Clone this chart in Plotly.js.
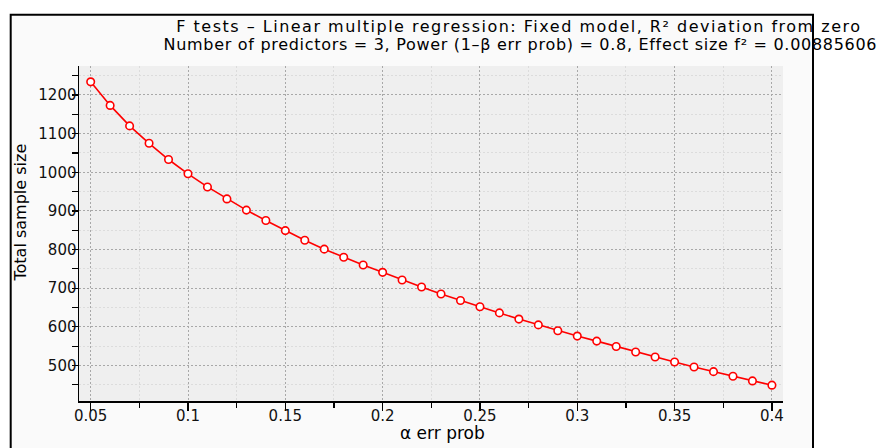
<!DOCTYPE html>
<html>
<head>
<meta charset="utf-8">
<script src="https://cdn.plot.ly/plotly-3.0.1.min.js"></script>
<style>
html,body{margin:0;padding:0;background:#fff;}
#chart{width:879px;height:448px;}
.annotation[data-index="0"] .annotation-text{letter-spacing:1.5px;}
.annotation[data-index="1"] .annotation-text{letter-spacing:0.7px;}
</style>
</head>
<body>
<div id="chart"></div>
<script>
// α err prob values (x) and Total sample size (y)
const alphaErrProb = [0.05,0.06,0.07,0.08,0.09,0.10,0.11,0.12,0.13,0.14,0.15,0.16,0.17,0.18,0.19,0.20,0.21,0.22,0.23,0.24,0.25,0.26,0.27,0.28,0.29,0.30,0.31,0.32,0.33,0.34,0.35,0.36,0.37,0.38,0.39,0.40];
const totalSampleSize = [1234,1173,1120,1075,1033,996,962,931,902,875,849,824,801,780,760,741,721,703,685,668,652,636,620,605,590,576,563,549,535,522,509,496,484,472,460,449];

const titleLine1 = "F tests – Linear multiple regression: Fixed model, R² deviation from zero";
const titleLine2 = "Number of predictors = 3, Power (1–β err prob) = 0.8, Effect size f² = 0.00885606";
const xTitle = "α err prob";
const yTitle = "Total sample size";

const trace = {
  x: alphaErrProb,
  y: totalSampleSize,
  type: 'scatter',
  mode: 'lines+markers',
  line: {color: '#ff0000', width: 1.6},
  marker: {symbol: 'circle', size: 7.5, color: '#ffffff', line: {color: '#ff0000', width: 1.6}},
  hoverinfo: 'skip',
  showlegend: false
};

const tickFont = {family: 'DejaVu Sans, sans-serif', size: 15, color: '#111'};
const textFont = {family: 'DejaVu Sans, sans-serif', size: 16, color: '#000'};

// plot area: x 79..783, y 66..401
const L = 79, T = 66, W = 704, H = 335;
const px = v => (v - L) / W;
const py = v => (T + H - v) / H;

const layout = {
  width: 879, height: 448,
  margin: {l: L, r: 879 - L - W, t: T, b: 448 - T - H},
  paper_bgcolor: '#ffffff',
  plot_bgcolor: 'rgba(0,0,0,0)',
  xaxis: {
    range: [0.044, 0.4057],
    dtick: 0.05, tick0: 0,
    showline: true, linecolor: '#000', linewidth: 1.5,
    ticks: 'outside', ticklen: 8, tickwidth: 1.2, tickcolor: '#000',
    ticklabelstandoff: -8,
    tickfont: tickFont,
    showgrid: true, gridcolor: '#a8a8a8', gridwidth: 1, griddash: '2px,2px',
    zeroline: false,
    minor: {dtick: 0.025, tick0: 0, ticks: 'outside', ticklen: 5, tickcolor: '#000', tickwidth: 1.2,
            showgrid: true, gridcolor: '#dcdcdc', gridwidth: 1, griddash: '2px,2px'},
    automargin: false
  },
  yaxis: {
    range: [408, 1275],
    dtick: 100, tick0: 0,
    showline: true, linecolor: '#000', linewidth: 1.5,
    ticks: 'outside', ticklen: 6, tickwidth: 1.2, tickcolor: '#000',
    ticklabelstandoff: -8,
    tickfont: tickFont,
    showgrid: true, gridcolor: '#a8a8a8', gridwidth: 1, griddash: '2px,2px',
    zeroline: false,
    minor: {dtick: 50, tick0: 0, ticks: 'outside', ticklen: 6, tickcolor: '#000', tickwidth: 1.2,
            showgrid: true, gridcolor: '#dcdcdc', gridwidth: 1, griddash: '2px,2px'},
    automargin: false
  },
  annotations: [
    {text: titleLine1, xref: 'paper', yref: 'paper', x: px(519), y: py(26.5), xanchor: 'center', yanchor: 'middle', showarrow: false, font: textFont},
    {text: titleLine2, xref: 'paper', yref: 'paper', x: px(520), y: py(44), xanchor: 'center', yanchor: 'middle', showarrow: false, font: textFont},
    {text: xTitle, xref: 'paper', yref: 'paper', x: px(442.5), y: py(433), xanchor: 'center', yanchor: 'middle', showarrow: false, borderpad: 0, font: {family: 'DejaVu Sans, sans-serif', size: 17, color: '#000'}},
    {text: yTitle, xref: 'paper', yref: 'paper', x: px(20), y: py(212.5), xanchor: 'center', yanchor: 'middle', textangle: -90, showarrow: false, font: {family: 'DejaVu Sans, sans-serif', size: 16, color: '#000'}}
  ],
  shapes: [
    {type: 'rect', layer: 'below', xref: 'paper', yref: 'paper',
     x0: px(10.7), x1: px(813), y0: py(455), y1: py(14.7),
     line: {color: '#000', width: 2}, fillcolor: '#fafafa'},
    {type: 'rect', layer: 'below', xref: 'paper', yref: 'paper',
     x0: 0, x1: 1, y0: 0, y1: 1,
     line: {width: 0}, fillcolor: '#efefef'}
  ]
};

Plotly.newPlot('chart', [trace], layout, {staticPlot: true, displayModeBar: false});
</script>
</body>
</html>
